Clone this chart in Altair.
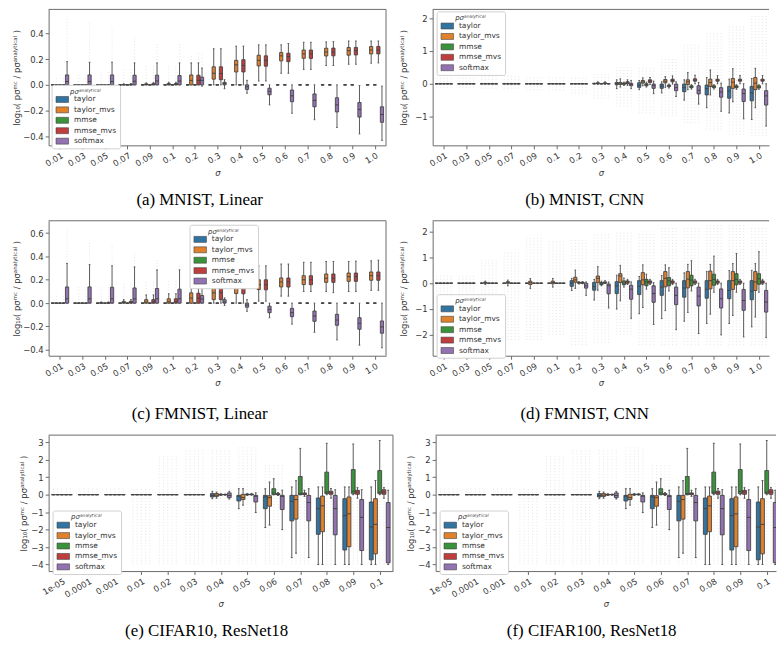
import altair as alt
import pandas as pd

SIGMA_LIN = ["0.01", "0.03", "0.05", "0.07", "0.09", "0.1", "0.2", "0.3", "0.4",
             "0.5", "0.6", "0.7", "0.8", "0.9", "1.0"]
SIGMA_RES = ["1e-05", "0.0001", "0.001", "0.01", "0.02", "0.03", "0.04", "0.05",
             "0.06", "0.07", "0.08", "0.09", "0.1"]
METHODS = ["taylor", "taylor_mvs", "mmse", "mmse_mvs", "softmax"]
COLORS = ["#3274a1", "#e1812c", "#3a923a", "#c03d3e", "#9372b2"]
Z = (0, 0, 0, 0, 0)

# each entry: (whisker_lo, q1, median, q3, whisker_hi) per sigma
# ---------------- (a) MNIST, Linear
A_TAYLOR = [Z] * 15
A_TAYLOR_MVS = [Z, Z, Z, (0, 0, 0, 0.003, 0.008), (0, 0, 0.003, 0.008, 0.015),
                (0, 0, 0.004, 0.01, 0.02), (0, 0, 0.035, 0.077, 0.17),
                (0, 0.044, 0.09, 0.14, 0.28), (0, 0.10, 0.155, 0.19, 0.30),
                (0.03, 0.147, 0.19, 0.23, 0.31), (0.09, 0.186, 0.225, 0.25, 0.31),
                (0.12, 0.206, 0.24, 0.27, 0.33), (0.15, 0.224, 0.255, 0.284, 0.333),
                (0.16, 0.23, 0.265, 0.29, 0.34), (0.168, 0.24, 0.27, 0.297, 0.34)]
A_MMSE = [Z] * 15
A_MMSE_MVS = [Z, Z, Z, (0, 0, 0, 0.004, 0.01), (0, 0, 0.004, 0.009, 0.017),
              (0, 0, 0.004, 0.01, 0.02), (0, 0, 0.035, 0.075, 0.17),
              (0, 0.04, 0.088, 0.14, 0.28), (0, 0.10, 0.15, 0.195, 0.30),
              (0.03, 0.145, 0.19, 0.225, 0.31), (0.09, 0.18, 0.22, 0.245, 0.32),
              (0.12, 0.205, 0.24, 0.27, 0.33), (0.15, 0.225, 0.255, 0.285, 0.335),
              (0.16, 0.232, 0.265, 0.29, 0.34), (0.17, 0.24, 0.27, 0.298, 0.34)]
A_SOFTMAX = [(0, 0, 0.026, 0.077, 0.18), (0, 0, 0.026, 0.077, 0.175),
             (0, 0, 0.026, 0.077, 0.175), (0, 0, 0.028, 0.075, 0.17),
             (0, 0, 0.03, 0.075, 0.17), (0, 0, 0.03, 0.072, 0.17),
             (-0.01, 0, 0.035, 0.06, 0.13), (-0.03, 0, 0.01, 0.02, 0.04),
             (-0.065, -0.035, -0.015, 0, 0.035), (-0.155, -0.077, -0.05, -0.026, 0),
             (-0.22, -0.13, -0.085, -0.04, 0), (-0.27, -0.17, -0.12, -0.07, 0),
             (-0.33, -0.21, -0.155, -0.10, 0), (-0.38, -0.25, -0.19, -0.137, -0.005),
             (-0.43, -0.29, -0.23, -0.17, -0.01)]
# fliers: (sigma index, method index or -1 for all, lo, hi)
A_FLIERS = [(0, 4, 0.18, 0.52), (1, 4, 0.175, 0.48), (2, 4, 0.175, 0.44),
            (3, 4, 0.17, 0.38), (4, 4, 0.17, 0.33), (5, 4, 0.17, 0.32), (6, 4, 0.13, 0.25),
            (0, 1, 0, 0.06), (1, 1, 0, 0.09), (2, 1, 0, 0.11), (3, 1, 0, 0.14),
            (4, 1, 0, 0.15), (5, 1, 0.02, 0.15), (6, 1, 0.17, 0.24),
            (0, 3, 0, 0.06), (1, 3, 0, 0.09), (2, 3, 0, 0.11), (3, 3, 0, 0.14),
            (4, 3, 0, 0.15), (5, 3, 0.02, 0.15), (6, 3, 0.17, 0.26)]

# ---------------- (b) MNIST, CNN
B_TAYLOR = [Z] * 7 + [(-0.01, 0, 0, 0.01, 0.02), (-0.15, -0.03, 0.0, 0.04, 0.12),
                      (-0.18, -0.11, -0.05, 0.03, 0.10), (-0.28, -0.14, -0.07, -0.01, 0.06),
                      (-0.5, -0.24, -0.12, -0.01, 0.12), (-0.73, -0.34, -0.15, -0.04, 0.19),
                      (-0.89, -0.44, -0.22, -0.08, 0.14), (-1.09, -0.52, -0.28, -0.08, 0.16)]
B_TAYLOR_MVS = [Z] * 7 + [(-0.02, 0, 0.01, 0.03, 0.06), (-0.1, -0.02, 0.02, 0.04, 0.15),
                          (-0.06, 0.02, 0.06, 0.10, 0.18), (-0.11, 0.03, 0.08, 0.13, 0.22),
                          (-0.18, -0.02, 0.06, 0.12, 0.34), (-0.34, -0.08, 0.04, 0.14, 0.42),
                          (-0.55, -0.14, 0.05, 0.16, 0.46), (-0.73, -0.18, 0.02, 0.19, 0.47)]
B_MMSE = [Z] * 8 + [(-0.05, -0.02, 0, 0.02, 0.05), (-0.1, -0.06, -0.03, 0, 0.05),
                    (-0.13, -0.09, -0.06, -0.04, -0.01), (-0.16, -0.12, -0.09, -0.06, -0.03),
                    (-0.16, -0.12, -0.09, -0.06, -0.03), (-0.17, -0.12, -0.09, -0.06, -0.03),
                    (-0.17, -0.13, -0.1, -0.06, -0.03)]
B_MMSE_MVS = [Z] * 7 + [(-0.02, 0, 0.01, 0.03, 0.06), (-0.05, 0, 0.03, 0.06, 0.12),
                        (-0.02, 0.04, 0.08, 0.12, 0.19), (-0.01, 0.06, 0.10, 0.14, 0.24),
                        (0, 0.08, 0.11, 0.15, 0.26), (0, 0.08, 0.11, 0.14, 0.25),
                        (0, 0.08, 0.11, 0.14, 0.25), (0, 0.08, 0.11, 0.14, 0.25)]
B_SOFTMAX = [Z] * 8 + [(-0.15, -0.06, -0.02, 0.01, 0.1), (-0.3, -0.14, -0.06, -0.01, 0.08),
                       (-0.39, -0.21, -0.12, -0.01, 0.06), (-0.62, -0.31, -0.2, -0.06, 0.04),
                       (-0.84, -0.41, -0.25, -0.12, 0.02), (-1.07, -0.54, -0.3, -0.16, 0),
                       (-1.29, -0.65, -0.37, -0.21, 0)]
B_FLIERS = [(0, -1, -0.12, 0.28), (1, -1, -0.12, 0.28), (2, -1, -0.15, 0.25),
            (3, -1, -0.15, 0.25), (4, -1, -0.2, 0.25), (5, -1, -0.2, 0.25),
            (6, -1, -0.3, 0.25), (7, -1, -0.45, 0.3), (8, -1, -0.7, 0.5),
            (9, -1, -0.9, 0.55), (10, -1, -1.0, 0.8), (11, -1, -1.2, 1.25),
            (12, -1, -1.4, 1.55), (13, -1, -1.55, 1.8), (14, -1, -1.6, 2.1)]

# ---------------- (c) FMNIST, Linear
C_TAYLOR = [Z] * 15
C_TAYLOR_MVS = [Z, Z, (0, 0, 0, 0.004, 0.01), (0, 0, 0.005, 0.015, 0.03),
                (0, 0, 0.01, 0.03, 0.07), (0, 0, 0.012, 0.037, 0.08),
                (0, 0, 0.043, 0.088, 0.18), (0, 0.03, 0.088, 0.13, 0.2),
                (0, 0.082, 0.133, 0.173, 0.27), (0.017, 0.116, 0.159, 0.2, 0.32),
                (0.06, 0.139, 0.182, 0.216, 0.335), (0.1, 0.159, 0.2, 0.235, 0.35),
                (0.1, 0.178, 0.213, 0.25, 0.357), (0.1, 0.187, 0.227, 0.258, 0.357),
                (0.11, 0.196, 0.235, 0.267, 0.363)]
C_MMSE = [Z] * 15
C_MMSE_MVS = [Z, Z, (0, 0, 0, 0.004, 0.01), (0, 0, 0.005, 0.016, 0.03),
              (0, 0, 0.01, 0.03, 0.07), (0, 0, 0.012, 0.037, 0.08),
              (0, 0, 0.043, 0.085, 0.18), (0, 0.03, 0.09, 0.13, 0.2),
              (0, 0.08, 0.13, 0.173, 0.27), (0.017, 0.114, 0.158, 0.2, 0.32),
              (0.06, 0.138, 0.182, 0.215, 0.335), (0.1, 0.158, 0.2, 0.235, 0.35),
              (0.09, 0.178, 0.213, 0.25, 0.357), (0.1, 0.187, 0.227, 0.258, 0.36),
              (0.11, 0.196, 0.235, 0.267, 0.368)]
C_SOFTMAX = [(0, 0, 0.037, 0.139, 0.34), (0, 0, 0.037, 0.139, 0.33),
             (0, 0, 0.037, 0.136, 0.32), (0, 0, 0.037, 0.13, 0.31),
             (0, 0, 0.037, 0.125, 0.285), (0, 0, 0.037, 0.12, 0.285),
             (0, 0, 0.035, 0.065, 0.16), (-0.02, 0, 0.01, 0.03, 0.045),
             (-0.07, -0.035, -0.017, 0, 0.03), (-0.125, -0.082, -0.054, -0.026, 0),
             (-0.18, -0.116, -0.082, -0.045, 0), (-0.25, -0.156, -0.11, -0.068, 0),
             (-0.315, -0.19, -0.145, -0.096, 0), (-0.36, -0.224, -0.173, -0.125, 0),
             (-0.383, -0.258, -0.204, -0.153, 0)]
C_FLIERS = [(0, 4, 0.34, 0.64), (1, 4, 0.33, 0.52), (2, 4, 0.32, 0.5),
            (3, 4, 0.31, 0.44), (4, 4, 0.285, 0.37), (5, 4, 0.285, 0.34), (6, 4, 0.16, 0.2),
            (0, 1, 0, 0.08), (1, 1, 0, 0.14), (2, 1, 0, 0.15), (3, 1, 0.03, 0.18),
            (4, 1, 0.07, 0.19), (5, 1, 0.08, 0.19),
            (0, 3, 0, 0.08), (1, 3, 0, 0.14), (2, 3, 0, 0.15), (3, 3, 0.03, 0.18),
            (4, 3, 0.07, 0.19), (5, 3, 0.08, 0.19)]

# ---------------- (d) FMNIST, CNN
D_TAYLOR = [Z] * 6 + [(-0.28, -0.12, 0.0, 0.1, 0.19), (-0.65, -0.27, -0.13, 0.03, 0.15),
                      (-1.0, -0.4, -0.1, 0.06, 0.31), (-1.18, -0.44, -0.12, 0.1, 0.26),
                      (-1.37, -0.47, -0.15, 0.1, 0.3), (-1.47, -0.54, -0.19, 0.1, 0.4),
                      (-1.56, -0.58, -0.24, 0.1, 0.45), (-1.56, -0.6, -0.28, 0.1, 0.49),
                      (-1.69, -0.64, -0.31, 0.1, 0.5)]
D_TAYLOR_MVS = [Z, Z, (-0.05, 0, 0.01, 0.04, 0.08), (-0.1, 0, 0.02, 0.06, 0.12),
                (-0.2, -0.05, 0.02, 0.08, 0.18), (-0.15, -0.02, 0.03, 0.08, 0.18),
                (-0.2, 0.04, 0.13, 0.23, 0.51), (-0.27, 0.03, 0.19, 0.28, 0.64),
                (-0.68, 0.03, 0.28, 0.37, 0.69), (-0.94, -0.06, 0.13, 0.41, 0.71),
                (-1.06, -0.14, 0.19, 0.45, 0.71), (-1.13, -0.18, 0.16, 0.45, 0.73),
                (-1.2, -0.22, 0.1, 0.47, 0.73), (-1.25, -0.24, 0.1, 0.45, 0.76),
                (-1.31, -0.28, 0.05, 0.45, 0.76)]
D_MMSE = [Z] * 6 + [(-0.03, 0, 0.02, 0.04, 0.06), (-0.1, -0.06, -0.02, 0.03, 0.08),
                    (-0.15, -0.06, 0, 0.09, 0.2), (-0.23, -0.1, 0.05, 0.15, 0.35),
                    (-0.3, -0.1, 0.09, 0.22, 0.6), (-0.3, -0.1, 0.12, 0.31, 0.87),
                    (-0.35, -0.08, 0.15, 0.35, 1.05), (-0.35, -0.06, 0.15, 0.37, 1.15),
                    (-0.35, -0.04, 0.17, 0.37, 1.22)]
D_MMSE_MVS = [Z] * 6 + [(-0.02, 0, 0.02, 0.04, 0.06), (-0.01, 0, 0.03, 0.05, 0.1),
                        (-0.05, 0, 0.05, 0.09, 0.15), (-0.05, 0, 0.05, 0.09, 0.15),
                        (-0.05, 0, 0.05, 0.09, 0.15), (-0.05, 0, 0.05, 0.09, 0.15),
                        (-0.05, 0, 0.05, 0.09, 0.15), (-0.05, 0, 0.05, 0.09, 0.15),
                        (-0.05, 0, 0.05, 0.09, 0.15)]
D_SOFTMAX = [Z] * 6 + [(-0.47, -0.19, -0.1, 0, 0.05), (-0.96, -0.41, -0.1, -0.03, 0.05),
                       (-1.36, -0.62, -0.23, -0.08, 0.05), (-1.6, -0.74, -0.4, -0.1, 0.02),
                       (-1.8, -0.83, -0.47, -0.15, 0), (-1.95, -0.88, -0.5, -0.15, 0),
                       (-2.0, -0.96, -0.6, -0.22, 0), (-2.08, -1.05, -0.67, -0.24, 0),
                       (-2.1, -1.12, -0.73, -0.28, 0)]
D_FLIERS = [(0, -1, -0.9, 0.3), (1, -1, -0.9, 0.35), (2, -1, -1.2, 0.9),
            (3, -1, -2.2, 1.25), (4, -1, -2.2, 1.85), (5, -1, -2.0, 1.65),
            (6, -1, -2.4, 1.75), (7, -1, -2.3, 1.9), (8, -1, -2.0, 2.0),
            (9, -1, -2.4, 2.0), (10, -1, -2.4, 2.2), (11, -1, -2.4, 2.2),
            (12, -1, -2.4, 2.3), (13, -1, -2.4, 2.3), (14, -1, -2.4, 2.2)]

# ---------------- (e) CIFAR10, ResNet18 and (f) CIFAR100, ResNet18 (read identical)
E_TAYLOR = [Z] * 6 + [(-0.23, -0.13, -0.05, 0.06, 0.19), (-0.8, -0.36, -0.09, -0.04, 0.34),
                      (-1.88, -0.8, -0.13, -0.04, 0.34), (-3.6, -1.5, -0.38, -0.04, 0.44),
                      (-4.0, -2.27, -0.8, -0.19, 0.44), (-4.0, -3.17, -1.2, -0.23, 0.44),
                      (-4.0, -3.73, -1.85, -0.42, 0.44)]
E_TAYLOR_MVS = [Z] * 6 + [(-0.2, -0.1, -0.03, 0.06, 0.15), (-0.6, -0.28, -0.17, 0.02, 0.34),
                          (-1.74, -0.66, -0.17, -0.06, 0.72), (-3.35, -1.4, -0.28, -0.04, 0.8),
                          (-4.0, -2.12, -0.64, -0.08, 0.44), (-4.0, -2.98, -1.1, -0.13, 0.44),
                          (-4.0, -3.39, -1.7, -0.23, 0.81)]
E_MMSE = [Z] * 6 + [(-0.05, -0.02, 0, 0.02, 0.05), (-0.05, 0, 0, 0.03, 0.06),
                    (0, 0, 0.1, 0.34, 0.91), (0, 0, 0.06, 1.04, 2.65),
                    (0, 0.06, 0.15, 1.29, 2.94), (0, 0.06, 0.19, 1.44, 2.9),
                    (0, 0.06, 0.15, 1.38, 3.1)]
E_MMSE_MVS = [Z] * 6 + [(-0.03, 0, 0, 0.01, 0.03), (-0.03, 0, 0.01, 0.03, 0.06),
                        (-0.05, 0, 0.02, 0.06, 0.12), (-0.1, 0, 0.05, 0.1, 0.25),
                        (-0.2, 0.02, 0.11, 0.2, 0.35), (-0.2, 0.02, 0.15, 0.25, 0.4),
                        (-0.2, 0.02, 0.15, 0.28, 0.4)]
E_SOFTMAX = [Z] * 6 + [(-0.25, -0.17, -0.05, 0.1, 0.19), (-1.02, -0.42, -0.09, -0.04, 0.1),
                       (-2.0, -0.85, -0.1, -0.04, 0.25), (-3.6, -1.5, -0.45, -0.04, 0.34),
                       (-4.0, -2.3, -0.8, -0.04, 0.28), (-4.0, -3.2, -1.3, -0.28, 0.28),
                       (-4.0, -3.9, -1.88, -0.45, 0.25)]
E_FLIERS = [(0, -1, -0.05, 0.4), (1, -1, -0.05, 0.4), (2, -1, -0.05, 0.35),
            (3, -1, -4.0, 0.35), (4, -1, -4.0, 2.3), (5, -1, -4.0, 2.65),
            (6, -1, -4.0, 2.6), (7, -1, -4.0, 2.7), (8, -1, -4.0, 1.8),
            (9, -1, -4.0, 0.8), (10, -1, -4.0, 0.8), (11, -1, -4.0, 0.8),
            (12, -1, -4.0, 0.8)]

YTITLE = "log\u2081\u2080( p\u03c3\u1d50\u1d9c / p\u03c3\u1d43\u207f\u1d43\u02e1\u02b8\u1d57\u2071\u1d9c\u1d43\u02e1 )"
LEGTITLE = "p\u03c3\u1d43\u207f\u1d43\u02e1\u02b8\u1d57\u2071\u1d9c\u1d43\u02e1"
LINE = "#444444"
WHISK = "#5a5a5a"
FRAME = "#6b6b6b"
FONT = "DejaVu Sans"
HALF = 0.072
CAP = 0.036
RECT = "M-2.1,-1L2.1,-1L2.1,1L-2.1,1Z"


def panel(sigmas, stats, fliers, ydom, yticks, yfmt, width, height, xmax,
          lx, ly, caption, title_x, right, cap_offset):
    rows = []
    for j, series in enumerate(stats):
        for i, (lo, q1, med, q3, hi) in enumerate(series):
            c = i + (j - 2) * 0.16
            rows.append(dict(sigma=sigmas[i], method=METHODS[j], xc=c, xl=c - HALF,
                             xr=c + HALF, cl=c - CAP, cr=c + CAP,
                             lo=lo, q1=q1, med=med, q3=q3, hi=hi))
    df = pd.DataFrame(rows)
    frows = []
    for (i, m, lo, hi) in fliers:
        ms = range(5) if m < 0 else [m]
        for j in ms:
            frows.append(dict(xc=i + (j - 2) * 0.16, lo=lo, hi=hi))
    fdf = pd.DataFrame(frows)

    xscale = alt.Scale(domain=[-0.5, xmax], nice=False, zero=False)
    yscale = alt.Scale(domain=ydom, nice=False, zero=False)
    arr = "[" + ",".join("'%s'" % s for s in sigmas) + "]"
    xaxis = alt.Axis(values=list(range(len(sigmas))), labelExpr=arr + "[datum.value]",
                     title="\u03c3", titleFontStyle="italic", labelAngle=330,
                     labelAlign="right", labelBaseline="top", grid=False,
                     labelOverlap=False, labelBound=False, titlePadding=1)
    yaxis = alt.Axis(values=yticks, format=yfmt, title=YTITLE, grid=False,
                     titleX=title_x, titleY=height / 2, titleAngle=270,
                     titleBaseline="middle", titleAlign="center", labelOverlap=False)

    def X(f):
        return alt.X(f + ":Q", scale=xscale, axis=xaxis)

    def Y(f):
        return alt.Y(f + ":Q", scale=yscale, axis=yaxis)

    base = alt.Chart(df)
    fl = alt.Chart(fdf).mark_rule(color="#c8c8c8", strokeDash=[1, 2], strokeWidth=1,
                                   opacity=0.45, clip=True).encode(x=X("xc"), y=Y("lo"), y2="hi:Q")
    wh = base.mark_rule(color=WHISK, strokeWidth=1, clip=True).encode(x=X("xc"), y=Y("lo"), y2="hi:Q")
    ch = base.mark_rule(color=WHISK, strokeWidth=1, clip=True).encode(x=X("cl"), x2="cr:Q", y=Y("hi"))
    cl = base.mark_rule(color=WHISK, strokeWidth=1, clip=True).encode(x=X("cl"), x2="cr:Q", y=Y("lo"))
    bx = base.mark_bar(stroke=LINE, strokeWidth=0.9, clip=True).encode(
        x=X("xl"), x2="xr:Q", y=Y("q1"), y2="q3:Q",
        color=alt.Color("method:N", scale=alt.Scale(domain=METHODS, range=COLORS),
                        legend=alt.Legend(orient="none", legendX=lx, legendY=ly,
                                          title=LEGTITLE, titleFontSize=7,
                                          titleFontStyle="italic", titleFontWeight="normal",
                                          titleColor="#333", titleAnchor="middle",
                                          titlePadding=1,
                                          labelFontSize=7.5, labelColor="#333",
                                          labelFont=FONT, titleFont=FONT,
                                          symbolType=RECT, symbolSize=36, symbolOffset=4,
                                          symbolStrokeColor=LINE, symbolStrokeWidth=0.6,
                                          symbolOpacity=1, rowPadding=1.5, labelOffset=8,
                                          fillColor="white", strokeColor="#d0d0d0",
                                          cornerRadius=2, padding=3)))
    md = base.mark_rule(color=LINE, strokeWidth=1, clip=True).encode(x=X("xl"), x2="xr:Q", y=Y("med"))
    one = pd.DataFrame({"k": [0]})
    top = alt.Chart(one).mark_rule(color=FRAME, strokeWidth=1).encode(
        x=alt.value(0), x2=alt.value(width), y=alt.value(0))
    layers = [fl, wh, ch, cl, bx, md, top]
    if not right:
        layers.append(alt.Chart(one).mark_rule(color=FRAME, strokeWidth=1).encode(
            x=alt.value(width), y=alt.value(0), y2=alt.value(height)))
    return alt.layer(*layers).properties(
        width=width, height=height,
        title=alt.TitleParams(text=caption, orient="bottom", anchor="middle", frame="bounds",
                              font="Liberation Serif", fontSize=17, fontWeight="normal",
                              color="black", offset=cap_offset))


pa = panel(SIGMA_LIN, [A_TAYLOR, A_TAYLOR_MVS, A_MMSE, A_MMSE_MVS, A_SOFTMAX], A_FLIERS,
           [-0.469, 0.585], [-0.4, -0.2, 0.0, 0.2, 0.4], ".1f", 340, 137, 14.5,
           3, 76, "(a) MNIST, Linear", -32, False, 15)
pb = panel(SIGMA_LIN, [B_TAYLOR, B_TAYLOR_MVS, B_MMSE, B_MMSE_MVS, B_SOFTMAX], B_FLIERS,
           [-1.88, 2.27], [-1, 0, 1, 2], "d", 339, 137, 14.45,
           4, 2, "(b) MNIST, CNN", -29, True, 15)
pc = panel(SIGMA_LIN, [C_TAYLOR, C_TAYLOR_MVS, C_MMSE, C_MMSE_MVS, C_SOFTMAX], C_FLIERS,
           [-0.451, 0.706], [-0.4, -0.2, 0.0, 0.2, 0.4, 0.6], ".1f", 340, 136, 14.5,
           142, 4, "(c) FMNIST, Linear", -32, False, 19)
pd_ = panel(SIGMA_LIN, [D_TAYLOR, D_TAYLOR_MVS, D_MMSE, D_MMSE_MVS, D_SOFTMAX], D_FLIERS,
            [-2.81, 2.42], [-2, -1, 0, 1, 2], "d", 339, 136, 14.45,
            4, 74, "(d) FMNIST, CNN", -29, True, 19)
pe = panel(SIGMA_RES, [E_TAYLOR, E_TAYLOR_MVS, E_MMSE, E_MMSE_MVS, E_SOFTMAX], E_FLIERS,
           [-4.375, 3.41], [-4, -3, -2, -1, 0, 1, 2, 3], "d", 347, 137, 12.5,
           4, 76, "(e) CIFAR10, ResNet18", -25, False, 15)
pf = panel(SIGMA_RES, [E_TAYLOR, E_TAYLOR_MVS, E_MMSE, E_MMSE_MVS, E_SOFTMAX], E_FLIERS,
           [-4.375, 3.41], [-4, -3, -2, -1, 0, 1, 2, 3], "d", 343, 137, 12.35,
           4, 76, "(f) CIFAR100, ResNet18", -25, True, 15)


def row(a, b):
    return alt.hconcat(a, b, spacing=13).resolve_scale(
        x="independent", y="independent", color="independent").resolve_legend(color="independent")


chart = alt.vconcat(row(pa, pb), row(pc, pd_), row(pe, pf), spacing=12).resolve_scale(
    x="independent", y="independent", color="independent").resolve_legend(
    color="independent").properties(
    padding={"left": 13, "top": 6, "right": 0, "bottom": 0}
).configure_view(stroke=None).configure_axis(
    labelFont=FONT, titleFont=FONT, labelFontSize=8.5, titleFontSize=8.5,
    labelColor="#333", titleColor="#333", domainColor=FRAME, tickColor=FRAME,
    tickSize=3.5, labelPadding=2, titleFontWeight="normal"
).configure_axisY(titleFontSize=8.5, titlePadding=4)

chart.save("out.html", embed_options={"renderer": "svg", "actions": False})
